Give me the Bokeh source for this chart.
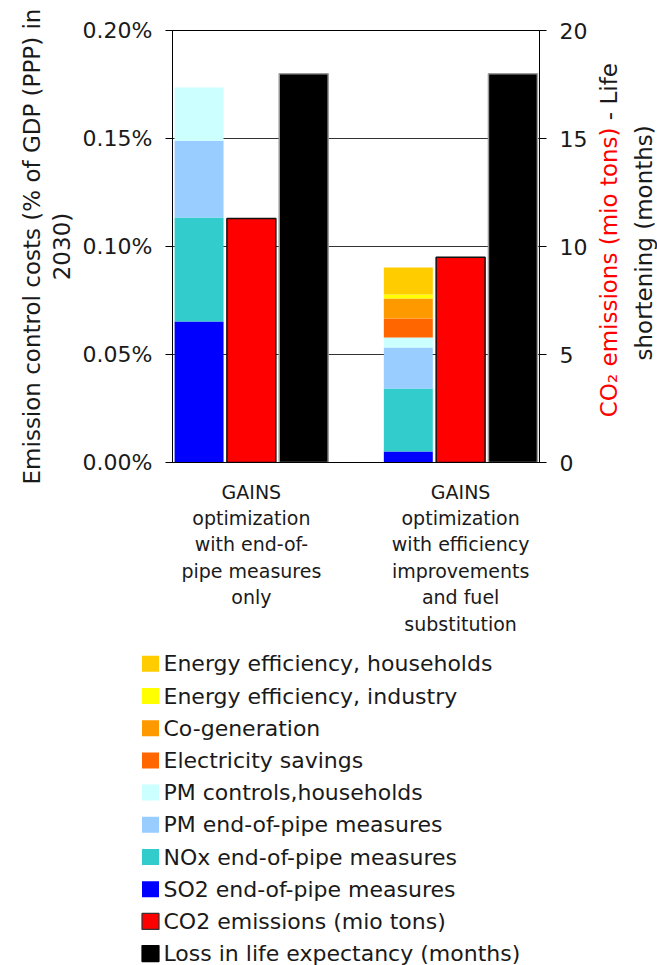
import math
from bokeh.plotting import figure
from bokeh.layouts import row, column
from bokeh.core.properties import value
from bokeh.models import (ColumnDataSource, FactorRange, Range1d, LinearAxis, FixedTicker,
                          PrintfTickFormatter)
from bokeh.transform import dodge
from bokeh.embed import file_html
from bokeh.resources import INLINE

# ---------------- data ----------------
categories = [
    "GAINS\noptimization\nwith end-of-\npipe measures\nonly",
    "GAINS\noptimization\nwith efficiency\nimprovements\nand fuel\nsubstitution",
]
# emission control costs, % of GDP (PPP) in 2030 (stacked)
so2_eop = [0.0653, 0.0051]
nox_eop = [0.0481, 0.0292]
pm_eop = [0.0356, 0.0189]
pm_households = [0.0246, 0.0047]
electricity_savings = [0.0, 0.0088]
co_generation = [0.0, 0.0092]
eff_industry = [0.0, 0.0019]
eff_households = [0.0, 0.0125]
# right axis
co2_emissions = [11.3, 9.5]
life_loss = [18.0, 18.0]

stack_keys = ["so2", "nox", "pm_eop", "pm_hh", "elec", "cogen", "ind", "hh"]
stack_labels = ["SO2 end-of-pipe measures", "NOx end-of-pipe measures",
                "PM end-of-pipe measures", "PM controls,households",
                "Electricity savings", "Co-generation",
                "Energy efficiency, industry", "Energy efficiency, households"]
stack_colors = ["#0000FF", "#33CCCC", "#99CCFF", "#CCFFFF",
                "#FF6600", "#FF9900", "#FFFF00", "#FFCC00"]
co2_label = "CO2 emissions (mio tons)"
life_label = "Loss in life expectancy (months)"
left_ticks = [0.0, 0.05, 0.10, 0.15, 0.20]
right_ticks = [0, 5, 10, 15, 20]

src = ColumnDataSource(dict(
    cat=categories, so2=so2_eop, nox=nox_eop, pm_eop=pm_eop, pm_hh=pm_households,
    elec=electricity_savings, cogen=co_generation, ind=eff_industry, hh=eff_households,
    co2=co2_emissions, life=life_loss))

FONT = "DejaVu Sans"
TXT = "#1a1a1a"
PH = 640          # height of the chart part (legend panel below)
FT, FH = 30, 432  # frame top / frame height

xr = FactorRange(factors=categories, range_padding=-0.123, range_padding_units="absolute")
p = figure(x_range=xr, y_range=Range1d(0, 0.2),
           frame_width=367, frame_height=FH,
           min_border_left=172, min_border_right=51, min_border_top=FT,
           min_border_bottom=PH - FT - FH,
           output_backend="svg", toolbar_location=None,
           background_fill_color="white", border_fill_color="white",
           outline_line_color="black", outline_line_width=1)
p.extra_y_ranges = {"r": Range1d(0, 20)}

BW = 0.234
stack_r = p.vbar_stack(stack_keys, x=dodge("cat", -0.25, range=p.x_range), width=BW,
                       color=stack_colors, line_color=None, source=src)
co2_r = p.vbar(x=dodge("cat", 0.0, range=p.x_range), top="co2", width=BW,
               fill_color="#FF0000", line_color="#111111", line_width=1.5,
               y_range_name="r", source=src)
life_r = p.vbar(x=dodge("cat", 0.25, range=p.x_range), top="life", width=BW,
                fill_color="#000000", line_color="#9a9a9a", line_width=1.5,
                y_range_name="r", source=src)

# grid
p.xgrid.visible = False
p.ygrid.ticker = FixedTicker(ticks=[0.05, 0.10, 0.15])
p.ygrid.grid_line_color = "#333333"
p.ygrid.grid_line_width = 1

# left axis
ya = p.yaxis[0]
ya.ticker = FixedTicker(ticks=left_ticks)
ya.formatter = PrintfTickFormatter(format="%.2f%%")
ya.minor_tick_line_color = None
ya.axis_label = "Emission control costs (% of GDP (PPP) in\n2030)"
ya.axis_label_text_font = FONT
ya.axis_label_text_font_size = "23px"
ya.axis_label_text_font_style = "normal"
ya.axis_label_text_color = TXT
ya.axis_label_text_line_height = 1.15
ya.axis_label_standoff = 5

# right axis
ra = LinearAxis(y_range_name="r", ticker=FixedTicker(ticks=right_ticks))
ra.minor_tick_line_color = None
p.add_layout(ra, "right")

for ax in (ya, ra):
    ax.major_label_text_font = FONT
    ax.major_label_text_font_size = "22px"
    ax.major_label_text_color = TXT
    ax.axis_line_color = "black"
    ax.major_tick_line_color = "black"
    ax.major_tick_out = 7
    ax.major_tick_in = 0
    ax.major_label_standoff = 13

xa = p.xaxis[0]
xa.major_tick_line_color = None
xa.major_tick_out = 0
xa.axis_line_color = "black"
xa.major_label_text_font = FONT
xa.major_label_text_font_size = "19px"
xa.major_label_text_color = TXT
xa.major_label_standoff = 18
xa.major_label_orientation = "horizontal"

# ---------- right-hand axis title (two colours) in a narrow companion panel ----------
# its frame is the same height/position as the chart frame; y measured up from frame bottom
RW = 67
t = figure(width=RW, height=PH, frame_height=FH, x_range=Range1d(0, RW), y_range=Range1d(0, FH),
           min_border_left=0, min_border_right=0, min_border_top=FT,
           min_border_bottom=PH - FT - FH, x_axis_type=None, y_axis_type=None,
           output_backend="svg", toolbar_location=None,
           outline_line_color=None, background_fill_color="white", border_fill_color="white")
t.xgrid.visible = False
t.ygrid.visible = False
tkw = dict(angle=math.pi / 2, text_font=value(FONT), text_font_size="23px",
           text_baseline="middle")
BOUND = FT + FH - 127   # boundary between red and black parts of line 1
t.text(x=[18], y=[BOUND], text=["CO\u2082 emissions (mio tons)"], text_align="right",
       text_color="#FF0000", **tkw)
t.text(x=[18], y=[BOUND], text=["\u00a0- Life"], text_align="left", text_color=TXT, **tkw)
t.text(x=[53], y=[FT + FH - 360], text=["shortening (months)"], text_align="left",
       text_color=TXT, **tkw)

# ---------------- legend panel ----------------
leg_labels = stack_labels[::-1] + [co2_label, life_label]
leg_colors = stack_colors[::-1] + ["#FF0000", "#000000"]
leg_lines = [None] * len(stack_labels) + ["#333333", "#000000"]
leg_src = ColumnDataSource(dict(row=list(range(len(leg_labels))), label=leg_labels,
                                color=leg_colors, line=leg_lines))
LH = 965 - PH
ROW = 32.2
top_off = 23.3
lg = figure(width=657, height=LH, x_range=Range1d(0, 657),
            y_range=Range1d(-top_off / ROW + LH / ROW, -top_off / ROW),
            min_border=0, x_axis_type=None, y_axis_type=None,
            output_backend="svg", toolbar_location=None,
            outline_line_color=None, background_fill_color="white", border_fill_color="white")
lg.xgrid.visible = False
lg.ygrid.visible = False
lg.rect(x=150, y="row", width=17, height=16, width_units="screen", height_units="screen",
        fill_color="color", line_color="line", line_width=1.2, source=leg_src)
lg.text(x=163, y="row", text="label", text_align="left", text_baseline="middle",
        text_font=value(FONT), text_font_size="22px", text_color=TXT, source=leg_src)

layout = column(row(p, t, spacing=0), lg, spacing=0)
open("out.html", "w").write(file_html(layout, INLINE))
